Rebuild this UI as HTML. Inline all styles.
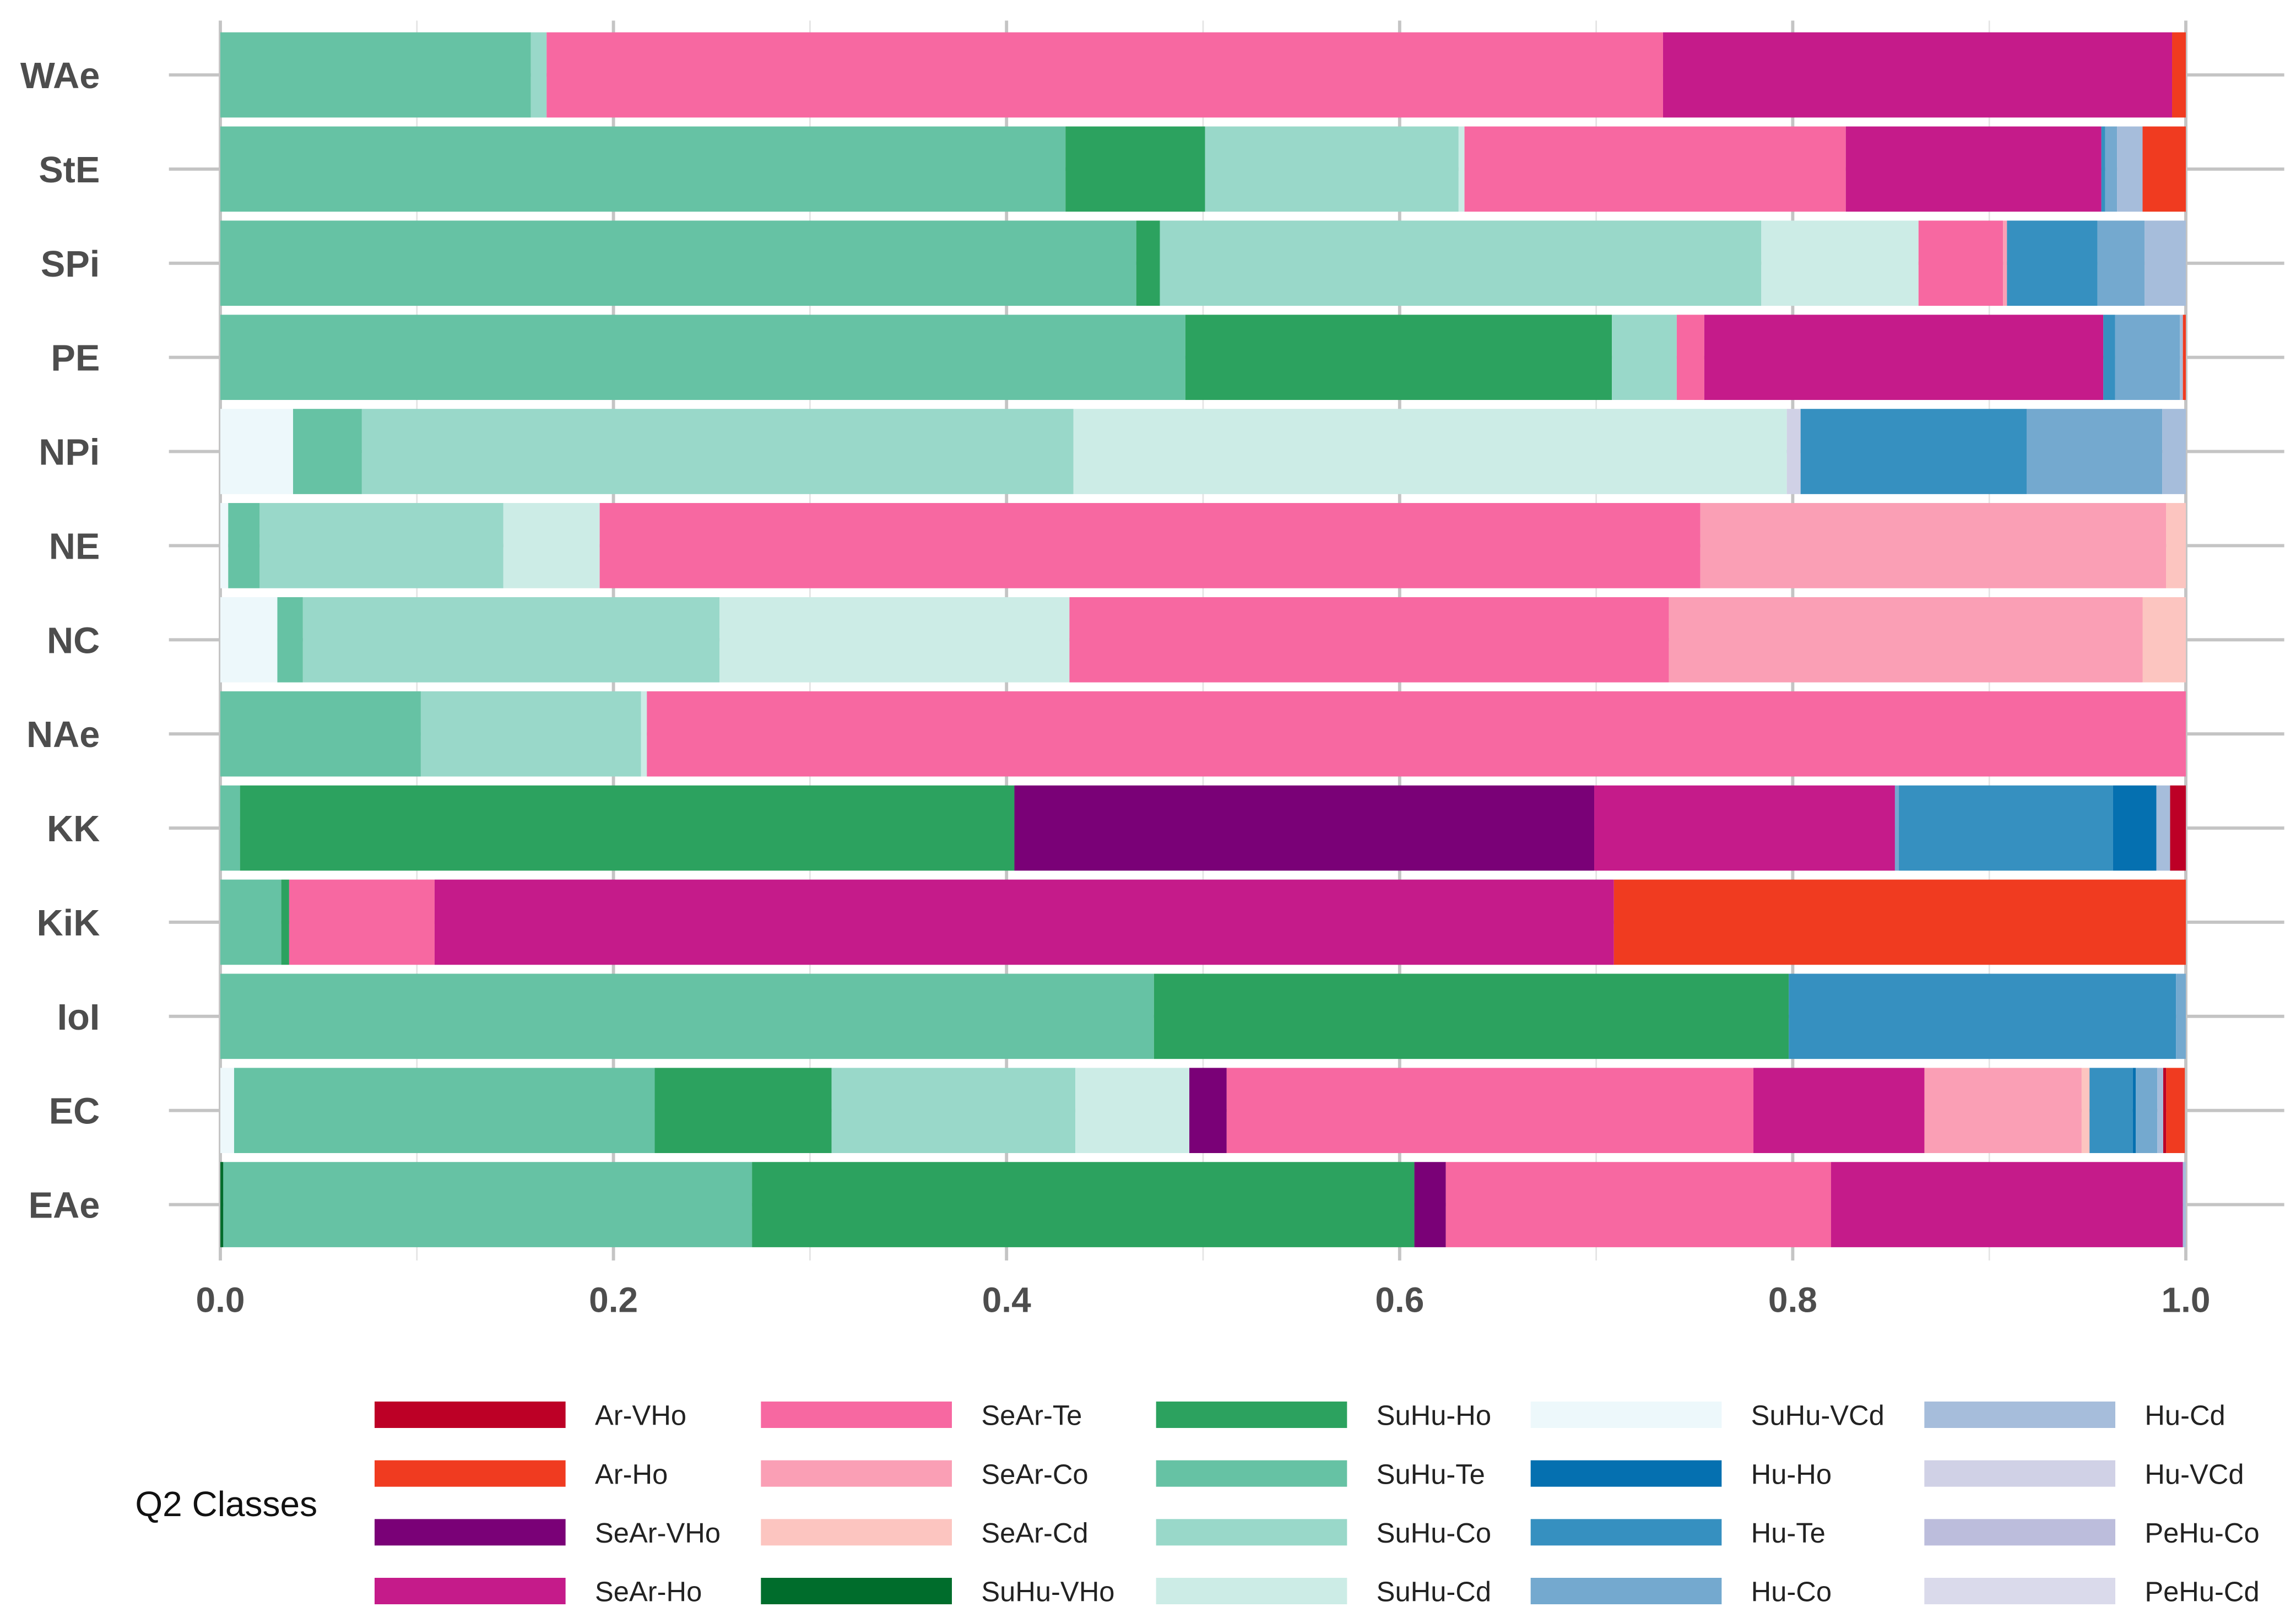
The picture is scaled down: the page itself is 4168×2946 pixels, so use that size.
<!DOCTYPE html>
<html><head><meta charset="utf-8"><style>
html,body{margin:0;padding:0;background:#fff;}
svg{display:block;font-family:"Liberation Sans",Arial,sans-serif;}
</style></head><body>
<svg id="chart" width="4168" height="2946" viewBox="0 0 1563 1104.75" xmlns="http://www.w3.org/2000/svg">
<g id="grid"></g>
<g id="bars"></g>
<g id="axes"></g>
<g id="legend"></g>
</svg>
<script>
const categories = ["WAe","StE","SPi","PE","NPi","NE","NC","NAe","KK","KiK","IoI","EC","EAe"];
const classes = ["Ar-VHo","Ar-Ho","SeAr-VHo","SeAr-Ho","SeAr-Te","SeAr-Co","SeAr-Cd","SuHu-VHo","SuHu-Ho","SuHu-Te","SuHu-Co","SuHu-Cd","SuHu-VCd","Hu-Ho","Hu-Te","Hu-Co","Hu-Cd","Hu-VCd","PeHu-Co","PeHu-Cd"];
const classColors = ["#bd0026","#f03b20","#7a0177","#c51b8a","#f768a1","#fa9fb5","#fcc5c0","#006d2c","#2ca25f","#66c2a4","#99d8c9","#ccece6","#edf8fb","#0570b0","#3690c0","#74a9cf","#a6bddb","#d0d1e6","#bcbddc","#dadaeb"];
const xTicks = [0,0.2,0.4,0.6,0.8,1.0];
const xTickLabels = ["0.0","0.2","0.4","0.6","0.8","1.0"];
// segments per category: [class, share] in stacking order
const rowWAe = [["SuHu-Te",.158],["SuHu-Co",.008],["SeAr-Te",.568],["SeAr-Ho",.259],["Ar-Ho",.007]];
const rowStE = [["SuHu-Te",.430],["SuHu-Ho",.071],["SuHu-Co",.129],["SuHu-Cd",.003],["SeAr-Te",.194],["SeAr-Ho",.130],["Hu-Te",.002],["Hu-Co",.006],["Hu-Cd",.013],["Ar-Ho",.022]];
const rowSPi = [["SuHu-Te",.466],["SuHu-Ho",.012],["SuHu-Co",.306],["SuHu-Cd",.080],["SeAr-Te",.043],["SeAr-Co",.002],["Hu-Te",.046],["Hu-Co",.024],["Hu-Cd",.021]];
const rowPE = [["SuHu-Te",.491],["SuHu-Ho",.217],["SuHu-Co",.033],["SeAr-Te",.014],["SeAr-Ho",.203],["Hu-Te",.006],["Hu-Co",.033],["Hu-Cd",.0015],["Ar-Ho",.0015]];
const rowNPi = [["SuHu-VCd",.037],["SuHu-Te",.035],["SuHu-Co",.362],["SuHu-Cd",.363],["Hu-VCd",.007],["Hu-Te",.115],["Hu-Co",.069],["Hu-Cd",.012]];
const rowNE = [["SuHu-VCd",.004],["SuHu-Te",.016],["SuHu-Co",.124],["SuHu-Cd",.049],["SeAr-Te",.560],["SeAr-Co",.237],["SeAr-Cd",.010]];
const rowNC = [["SuHu-VCd",.029],["SuHu-Te",.013],["SuHu-Co",.212],["SuHu-Cd",.178],["SeAr-Te",.305],["SeAr-Co",.241],["SeAr-Cd",.022]];
const rowNAe = [["SuHu-Te",.102],["SuHu-Co",.112],["SuHu-Cd",.003],["SeAr-Te",.783]];
const rowKK = [["SuHu-Te",.010],["SuHu-Ho",.394],["SeAr-VHo",.295],["SeAr-Ho",.153],["Hu-Co",.002],["Hu-Te",.109],["Hu-Ho",.022],["Hu-Cd",.007],["Ar-VHo",.008]];
const rowKiK = [["SuHu-Te",.031],["SuHu-Ho",.004],["SeAr-Te",.074],["SeAr-Ho",.600],["Ar-Ho",.291]];
const rowIoI = [["SuHu-Te",.475],["SuHu-Ho",.323],["Hu-Te",.197],["Hu-Co",.005]];
const rowEC = [["SuHu-VCd",.007],["SuHu-Te",.214],["SuHu-Ho",.090],["SuHu-Co",.124],["SuHu-Cd",.058],["SeAr-VHo",.019],["SeAr-Te",.268],["SeAr-Ho",.087],["SeAr-Co",.080],["SeAr-Cd",.004],["Hu-Te",.022],["Hu-Ho",.0015],["Hu-Co",.011],["Hu-Cd",.003],["Ar-VHo",.0015],["Ar-Ho",.0095]];
const rowEAe = [["SuHu-VHo",.0015],["SuHu-Te",.269],["SuHu-Ho",.337],["SeAr-VHo",.016],["SeAr-Te",.196],["SeAr-Ho",.179],["Hu-Cd",.0015]];
const rows = [rowWAe,rowStE,rowSPi,rowPE,rowNPi,rowNE,rowNC,rowNAe,rowKK,rowKiK,rowIoI,rowEC,rowEAe];

const NS="http://www.w3.org/2000/svg";
const X0=150,X1=1488,Y0=51,STEP=64.08,BH=58;
function xScale(v){return X0+v*(X1-X0);}
function yScale(i){return Y0+i*STEP;}
function mk(tag,attrs,parent){const e=document.createElementNS(NS,tag);for(const k in attrs)e.setAttribute(k,attrs[k]);parent.appendChild(e);return e;}
const grid=document.getElementById('grid'),bars=document.getElementById('bars'),axes=document.getElementById('axes'),legend=document.getElementById('legend');

for(let t=0;t<=10;t++){
  const v=t/10;
  const l=mk('line',{x1:xScale(v),x2:xScale(v),y1:14,y2:858,stroke:t%2?'#e3e3e3':'#c4c4c4','stroke-width':t%2?1:2.2},grid);
  
  
}
categories.forEach((c,i)=>{
  const l=mk('line',{x1:115,x2:1555,y1:yScale(i),y2:yScale(i),stroke:'#c4c4c4','stroke-width':2.2},grid);
  
  
  const tx=mk('text',{x:68,y:yScale(i)+9,'text-anchor':'end','font-size':25,'font-weight':'bold',fill:'#4d4d4d'},axes);
  tx.textContent=c;
  
  
  let acc=0;
  rows[i].forEach(seg=>{
    const ci=classes.indexOf(seg[0]);
    const r=mk('rect',{x:xScale(acc),y:yScale(i)-BH/2,width:Math.max(0,xScale(acc+seg[1])-xScale(acc)),height:BH,fill:classColors[ci]},bars);
    
    
    acc+=seg[1];
  });
});
xTicks.forEach((v,k)=>{
  const tx=mk('text',{x:xScale(v),y:893,'text-anchor':'middle','font-size':24,'font-weight':'bold',fill:'#4d4d4d'},axes);
  tx.textContent=xTickLabels[k];
  
  
});
const lt=mk('text',{x:92,y:1032,'font-size':24,fill:'#111'},legend);
lt.textContent='Q2 Classes';


const colX=[255,518,787,1042,1310],rowY=[963,1003,1043,1083];
classes.forEach((c,i)=>{
  const col=Math.floor(i/4),row=i%4;
  const r=mk('rect',{x:colX[col],y:rowY[row]-9,width:130,height:18,fill:classColors[i]},legend);
  
  
  const t=mk('text',{x:colX[col]+150,y:rowY[row]+7,'font-size':19,fill:'#222'},legend);
  t.textContent=c;
  
  
});
</script>
</body></html>
